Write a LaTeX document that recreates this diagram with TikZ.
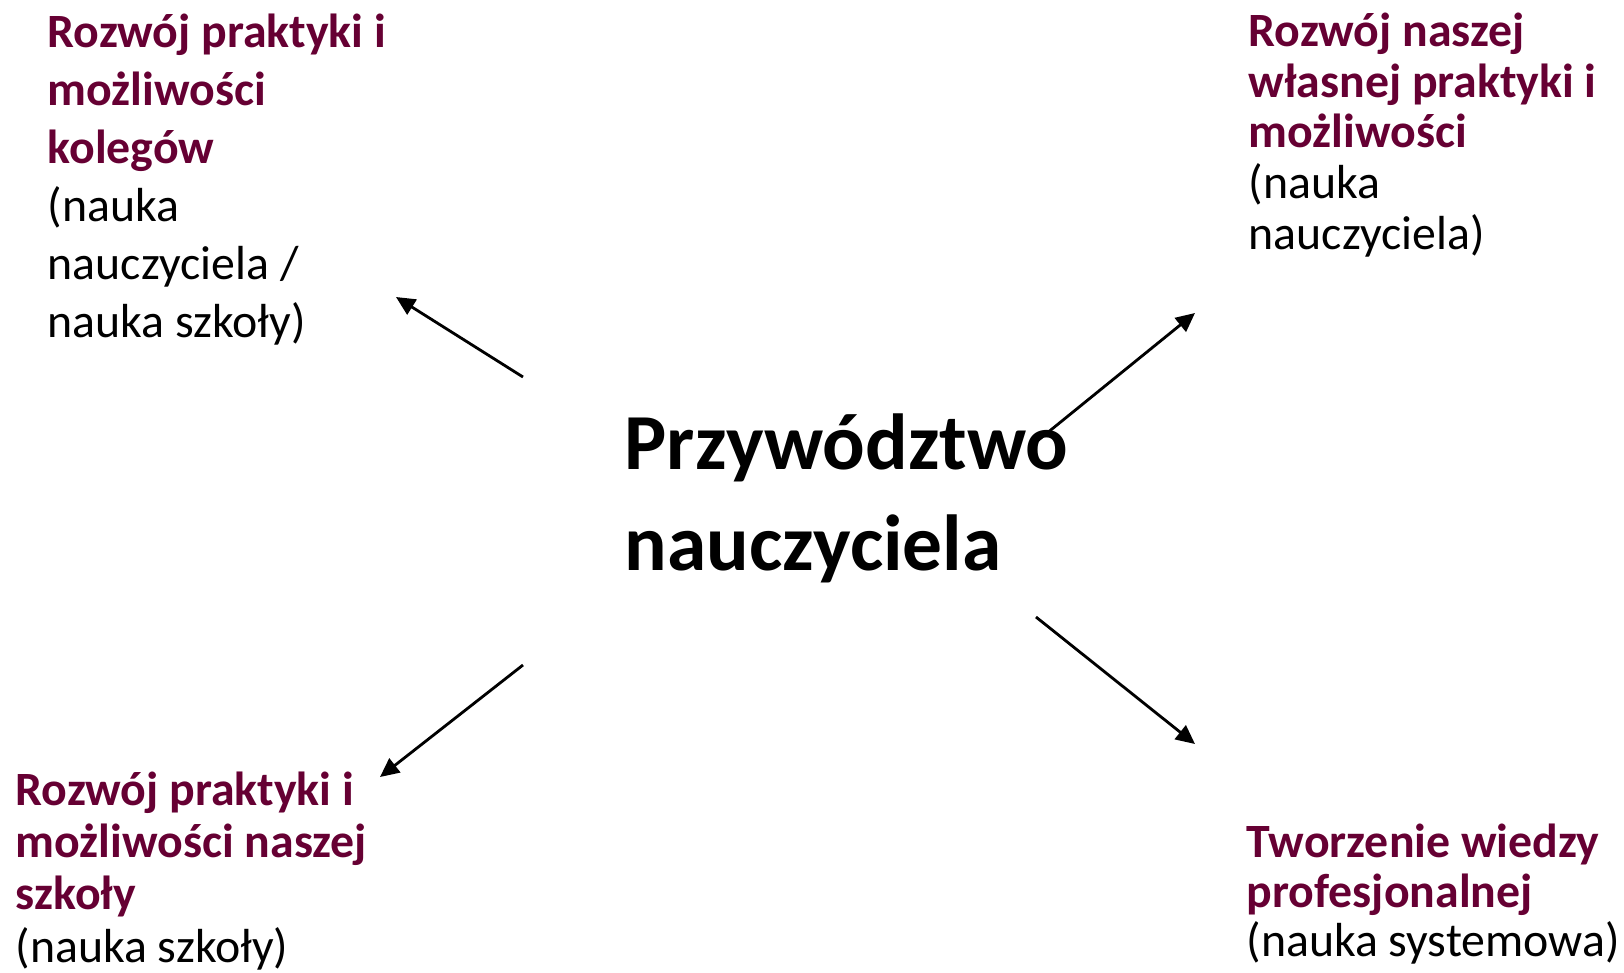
\documentclass[tikz,border=0pt]{standalone}
\usepackage{fontspec}
\setmainfont{Carlito}
\usetikzlibrary{arrows.meta}
\definecolor{wine}{HTML}{660033}
\tikzset{
	blok/.style={anchor=base west, inner sep=0pt, align=left},
	strzalka/.style={line width=0.8pt, -{Triangle[length=5.4pt,width=5pt]}}
}
\begin{document}
\begin{tikzpicture}

		\useasboundingbox (0,0) rectangle (16.24,-9.72);

		\node (CTR) at (6.24,-5.70) [blok, font={\fontsize{22.6}{28.5}\selectfont\bfseries}] {Przywództwo\\nauczyciela};

		\node (KOL) at (0.47,-3.37) [blok, font={\fontsize{13.6}{16.5}\selectfont}]
		{\textcolor{wine}{\textbf{Rozwój praktyki i}}\\\textcolor{wine}{\textbf{możliwości}}\\\textcolor{wine}{\textbf{kolegów}}\\(nauka\\nauczyciela /\\nauka szkoły)};
		\node (WL) at (12.48,-2.49) [blok, font={\fontsize{13.6}{14.4}\selectfont}]
		{\textcolor{wine}{\textbf{Rozwój naszej}}\\\textcolor{wine}{\textbf{własnej praktyki i}}\\\textcolor{wine}{\textbf{możliwości}}\\(nauka\\nauczyciela)};
		\node (SZK) at (0.15,-9.62) [blok, font={\fontsize{13.6}{14.8}\selectfont}]
		{\textcolor{wine}{\textbf{Rozwój praktyki i}}\\\textcolor{wine}{\textbf{możliwości naszej}}\\\textcolor{wine}{\textbf{szkoły}}\\(nauka szkoły)};
		\node (SYS) at (12.46,-9.567) [blok, font={\fontsize{13.6}{14.1}\selectfont}]
		{\textcolor{wine}{\textbf{Tworzenie wiedzy}}\\\textcolor{wine}{\textbf{profesjonalnej}}\\(nauka systemowa)};

		\coordinate (a1) at (5.23,-3.77);
		\coordinate (b1) at (3.96,-2.97);
		\coordinate (a2) at (10.36,-4.42);
		\coordinate (b2) at (11.95,-3.13);
		\coordinate (a3) at (5.23,-6.65);
		\coordinate (b3) at (3.80,-7.77);
		\coordinate (a4) at (10.36,-6.17);
		\coordinate (b4) at (11.95,-7.44);

		\draw [strzalka] (a1) -- (b1);
		\draw [strzalka] (a2) -- (b2);
		\draw [strzalka] (a3) -- (b3);
		\draw [strzalka] (a4) -- (b4);

		\end{tikzpicture}
\end{document}
